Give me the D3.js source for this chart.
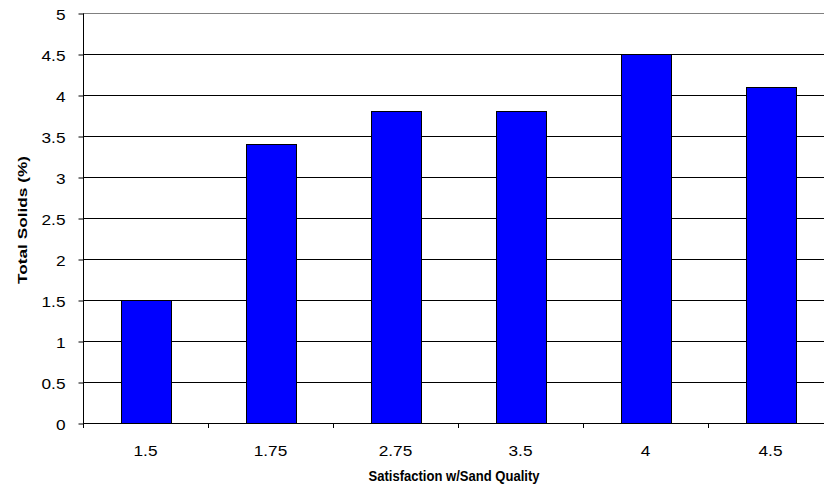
<!DOCTYPE html>
<html><head><meta charset="utf-8">
<script src="https://cdn.jsdelivr.net/npm/d3@7"></script>
<style>body{margin:0;background:#fff}svg{display:block}text{font-family:"Liberation Sans",Arial,sans-serif;fill:#000}</style>
</head><body>
<svg id="c" width="824" height="490"></svg>
<script>
const categories = ["1.5","1.75","2.75","3.5","4","4.5"];
const values = [1.5,3.4,3.8,3.8,4.5,4.1];
const yTicks = [0,0.5,1,1.5,2,2.5,3,3.5,4,4.5,5];
const xTitle = "Satisfaction w/Sand Quality";
const yTitle = "Total Solids (%)";

const svg = d3.select("#c");
const L = 83, R = 833, T = 13, B = 423;
const x = d3.scaleBand().domain(categories).range([L, R]).paddingInner(0.6).paddingOuter(0.3);
const y = d3.scaleLinear().domain([0, 5]).range([B, T]);

// gridlines
svg.append("g").selectAll("line").data(yTicks.filter(d => d > 0)).join("line")
  .attr("x1", L).attr("x2", R).attr("y1", d => y(d) + 0.5).attr("y2", d => y(d) + 0.5)
  .attr("stroke", d => d === 5 ? "#808080" : "#000").attr("stroke-width", 1);

// bars
svg.append("g").selectAll("rect").data(values).join("rect")
  .attr("x", (d, i) => Math.round(x(categories[i])) + 0.5)
  .attr("y", d => Math.round(y(d)) + 0.5)
  .attr("width", x.bandwidth())
  .attr("height", d => Math.round(B - y(d)))
  .attr("fill", "#0000FF").attr("stroke", "#000").attr("stroke-width", 1);

// y axis
const ya = svg.append("g").attr("transform", `translate(${L + 0.5},0.5)`)
  .call(d3.axisLeft(y).tickValues(yTicks).tickSize(5).tickFormat(d3.format("~g")));
ya.select(".domain").attr("stroke", "#000").attr("d", `M0,${T}V${B}`);
ya.selectAll(".tick line").attr("stroke", "#000");
ya.selectAll(".tick text").attr("x", null).attr("dy", null)
  .attr("transform", "translate(-18,5.5) scale(1.15,1)")
  .style("font-size", "15px").attr("fill", "#000");

// x axis
const boundaries = d3.range(categories.length + 1).map(i => L + i * x.step());
svg.append("line").attr("x1", L).attr("x2", R).attr("y1", B + 0.5).attr("y2", B + 0.5).attr("stroke", "#000");
svg.append("g").selectAll("line").data(boundaries).join("line")
  .attr("x1", d => Math.round(d) + 0.5).attr("x2", d => Math.round(d) + 0.5)
  .attr("y1", B).attr("y2", B + 5).attr("stroke", "#000");
svg.append("g").selectAll("text").data(categories).join("text")
  .attr("transform", d => `translate(${x(d) + x.bandwidth() / 2},456) scale(1.15,1)`)
  .attr("text-anchor", "middle").style("font-size", "15px").text(d => d);

// titles
svg.append("text").attr("transform", "translate(454,481) scale(0.87,1)")
  .attr("text-anchor", "middle").style("font-size", "15px").attr("font-weight", "bold").text(xTitle);
svg.append("text").attr("transform", "translate(27,220) rotate(-90) scale(1.15,0.87)")
  .attr("text-anchor", "middle").style("font-size", "15px").attr("font-weight", "bold").text(yTitle);
</script>
</body></html>
